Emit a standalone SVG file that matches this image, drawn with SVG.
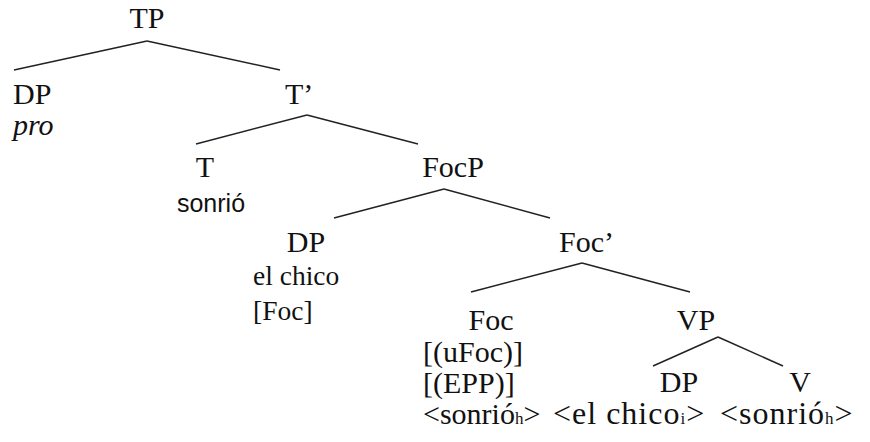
<svg xmlns="http://www.w3.org/2000/svg" width="870" height="442" viewBox="0 0 870 442">
<style>
.t{font-family:"Liberation Serif","Times New Roman",serif;font-size:30px;fill:#111}
.s{font-family:"Liberation Sans",Arial,sans-serif;font-size:25px}
.i{font-style:italic}
.sm{font-size:27.5px}
.w{font-size:32px;letter-spacing:1px}
.sub{font-size:17px}
.c line{stroke:#222;stroke-width:1.5}
</style>
<rect width="870" height="442" fill="#fff"/>
<g id="connectors" class="c">
<line x1="147" y1="41" x2="14" y2="70"/>
<line x1="147" y1="41" x2="280" y2="70"/>
<line x1="307" y1="115" x2="196" y2="144"/>
<line x1="307" y1="115" x2="418" y2="144"/>
<line x1="444" y1="189" x2="334" y2="218"/>
<line x1="444" y1="189" x2="550" y2="218"/>
<line x1="582" y1="263" x2="471" y2="292"/>
<line x1="582" y1="263" x2="690" y2="292"/>
<line x1="718" y1="337" x2="653" y2="366"/>
<line x1="718" y1="337" x2="783" y2="366"/>
</g>
<g class="t">
<g id="TP"><text x="147" y="28" text-anchor="middle">TP</text></g>
<g id="DP-pro"><text x="13" y="104">DP</text><text x="13" y="135" class="i">pro</text></g>
<g id="Tbar"><text x="285" y="104">T’</text></g>
<g id="T"><text x="205" y="177" text-anchor="middle">T</text><text x="211" y="212" text-anchor="middle" class="s">sonrió</text></g>
<g id="FocP"><text x="453" y="177" text-anchor="middle">FocP</text></g>
<g id="DP-chico"><text x="306" y="252" text-anchor="middle">DP</text><text x="253" y="285" class="sm">el chico</text><text x="253" y="320" class="sm">[Foc]</text></g>
<g id="Focbar"><text x="559" y="252">Foc’</text></g>
<g id="Foc"><text x="491" y="330" text-anchor="middle">Foc</text><text x="423" y="362">[(uFoc)]</text><text x="423" y="393">[(EPP)]</text><text x="423" y="424">&lt;sonrió<tspan class="sub">h</tspan>&gt;</text></g>
<g id="VP"><text x="696" y="330" text-anchor="middle">VP</text></g>
<g id="DP-trace"><text x="679" y="392" text-anchor="middle">DP</text><text x="553" y="424" class="w">&lt;el chico<tspan class="sub">i</tspan>&gt;</text></g>
<g id="V"><text x="800" y="392" text-anchor="middle">V</text><text x="720" y="424" class="w">&lt;sonrió<tspan class="sub">h</tspan>&gt;</text></g>
</g>
</svg>
